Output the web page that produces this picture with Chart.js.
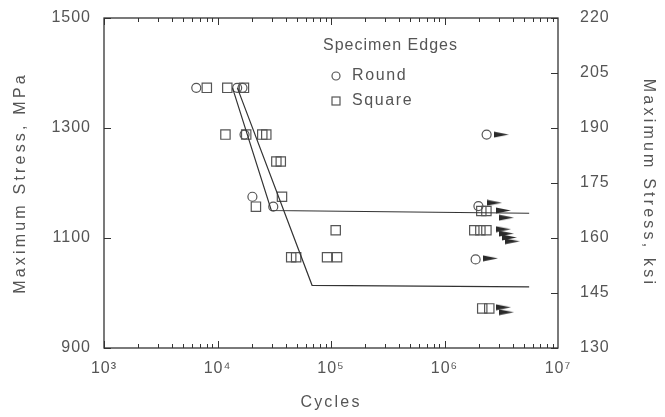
<!DOCTYPE html>
<html><head><meta charset="utf-8">
<script src="https://cdn.jsdelivr.net/npm/chart.js@4.4.0/dist/chart.umd.min.js"></script>
<style>html,body{margin:0;padding:0;background:#fff;}#wrap{width:665px;height:417px;position:relative;}</style>
</head><body><div id="wrap"><canvas id="c" width="665" height="417"></canvas></div>
<script>
// ---- data ----
const xTickValues = [1e3, 1e4, 1e5, 1e6, 1e7];
const xTickLabels = ['10³', '10⁴', '10⁵', '10⁶', '10⁷'];
const yLeftTicks = [900, 1100, 1300, 1500];
const yRightTicks = [130, 145, 160, 175, 190, 205, 220];

const roundCycles = [6500, 14900, 16600, 17300, 20300, 31000, 2350000, 1990000, 1880000];
const roundStress = [1373, 1373, 1373, 1288, 1175, 1157, 1288, 1158, 1061];

const squareCycles = [8050, 12200, 17100, 11750, 17900, 24800, 26900, 33000, 36100, 37000, 21800,
  110000, 44600, 49300, 92300, 113000, 2110000, 2340000, 1830000, 2070000, 2340000, 2150000, 2480000];
const squareStress = [1373, 1373, 1373, 1288, 1288, 1288, 1288, 1239, 1239, 1175, 1157,
  1114, 1065, 1065, 1065, 1065, 1149, 1149, 1114, 1114, 1114, 972, 972];

const runoutCycles = [3160000, 2750000, 3300000, 3500000, 3300000, 3500000, 3720000, 3950000, 2540000, 3300000, 3500000];
const runoutStress = [1288, 1164, 1150, 1137, 1116, 1108, 1101, 1094, 1063, 974, 965];

const fitACycles = [13560, 29800, 5570000];
const fitAStress = [1373, 1150, 1145];
const fitBCycles = [14960, 68100, 5570000];
const fitBStress = [1373, 1014, 1011];

const legendTitle = 'Specimen Edges';
const legendLabels = ['Round', 'Square'];
const xTitle = 'Cycles';
const yLeftTitle = 'Maximum Stress, MPa';
const yRightTitle = 'Maximum Stress, ksi';

// ---- styling ----
const INK = '#333';
const TXT = '#555';
const FONT = {family: "'Liberation Sans', Arial, sans-serif", size: 16};
const TITLE_SPACING = {x: '2.2px', y: '3.2px', y2: '3.2px'};

function pts(xs, ys) { return xs.map((x, i) => ({x: x, y: ys[i]})); }

const arrowImg = (() => {
  const c = document.createElement('canvas');
  c.width = 15; c.height = 7;
  const g = c.getContext('2d');
  g.fillStyle = '#2a2a2a';
  g.beginPath(); g.moveTo(0, 0.5); g.lineTo(15, 3.5); g.lineTo(0, 6.5); g.closePath(); g.fill();
  return c;
})();

const frame = {
  id: 'frame',
  beforeUpdate(chart) { chart.ctx.letterSpacing = '1px'; },
  beforeDraw(chart) {
    chart.ctx.letterSpacing = '1px';
    Object.keys(chart.scales).forEach(id => {
      const s = chart.scales[id];
      if (!s._spacedTitle) {
        const orig = s.drawTitle.bind(s);
        s.drawTitle = function () {
          const prev = this.ctx.letterSpacing;
          this.ctx.letterSpacing = TITLE_SPACING[id] || '1px';
          orig();
          this.ctx.letterSpacing = prev;
        };
        s._spacedTitle = true;
      }
    });
  },
  afterDraw(chart) {
    const {ctx, chartArea: a, scales} = chart;
    ctx.save();
    ctx.strokeStyle = INK;
    ctx.lineWidth = 1.3;
    ctx.strokeRect(a.left, a.top, a.right - a.left, a.bottom - a.top);
    ctx.lineWidth = 1;
    ctx.beginPath();
    const xs = scales.x;
    for (let d = 3; d < 7; d++) {
      for (let k = 1; k < 10; k++) {
        const v = k * Math.pow(10, d);
        const px = Math.round(xs.getPixelForValue(v)) + 0.5;
        const len = k === 1 ? 7 : 4;
        ctx.moveTo(px, a.bottom); ctx.lineTo(px, a.bottom - len);
        ctx.moveTo(px, a.top); ctx.lineTo(px, a.top + len);
      }
    }
    scales.y.ticks.forEach(t => {
      const py = Math.round(scales.y.getPixelForValue(t.value)) + 0.5;
      ctx.moveTo(a.left, py); ctx.lineTo(a.left + 7, py);
    });
    scales.y2.ticks.forEach(t => {
      const py = Math.round(scales.y2.getPixelForValue(t.value)) + 0.5;
      ctx.moveTo(a.right, py); ctx.lineTo(a.right - 7, py);
    });
    ctx.stroke();

    // legend
    ctx.fillStyle = TXT;
    ctx.font = FONT.size + 'px ' + FONT.family;
    ctx.textBaseline = 'middle';
    ctx.textAlign = 'left';
    ctx.letterSpacing = '1px';
    ctx.fillText(legendTitle, 323, 46);
    ctx.letterSpacing = '1.6px';
    ctx.fillText(legendLabels[0], 352, 76);
    ctx.fillText(legendLabels[1], 352, 101);
    ctx.strokeStyle = '#555';
    ctx.lineWidth = 1.2;
    ctx.beginPath(); ctx.arc(336, 76, 4, 0, Math.PI * 2); ctx.stroke();
    ctx.strokeRect(332, 97, 8, 8);
    ctx.restore();
  }
};

function fixV(w) { return s => { s.width = w; s.paddingTop = 0; s.paddingBottom = 0; }; }

new Chart(document.getElementById('c'), {
  type: 'scatter',
  data: {
    datasets: [
      {label: 'fitA', data: pts(fitACycles, fitAStress), showLine: true, borderColor: INK, borderWidth: 1.2,
        pointRadius: 0, fill: false, tension: 0, yAxisID: 'y'},
      {label: 'fitB', data: pts(fitBCycles, fitBStress), showLine: true, borderColor: INK, borderWidth: 1.2,
        pointRadius: 0, fill: false, tension: 0, yAxisID: 'y'},
      {label: legendLabels[0], data: pts(roundCycles, roundStress), pointStyle: 'circle', pointRadius: 4.5,
        borderColor: '#555', borderWidth: 1.2, backgroundColor: 'rgba(0,0,0,0)', yAxisID: 'y'},
      {label: legendLabels[1], data: pts(squareCycles, squareStress), pointStyle: 'rect', pointRadius: 6.6,
        borderColor: '#555', borderWidth: 1.2, backgroundColor: 'rgba(0,0,0,0)', yAxisID: 'y'},
      {label: 'runout', data: pts(runoutCycles, runoutStress), pointStyle: arrowImg, pointRadius: 6, yAxisID: 'y'}
    ]
  },
  options: {
    responsive: false,
    animation: false,
    devicePixelRatio: 1,
    layout: {padding: {top: 18, left: 0, right: 0, bottom: 0}},
    plugins: {legend: {display: false}, tooltip: {enabled: false}},
    scales: {
      x: {
        type: 'logarithmic', position: 'bottom', min: 1e3, max: 1e7,
        grid: {display: false, drawTicks: false}, border: {display: false},
        afterBuildTicks: s => { s.ticks = xTickValues.map(v => ({value: v})); },
        afterFit: s => { s.height = 69; s.paddingLeft = 0; s.paddingRight = 0; },
        ticks: {color: TXT, font: FONT, padding: 11, maxRotation: 0, autoSkip: false,
          callback: (v) => { const i = xTickValues.indexOf(v); return i >= 0 ? xTickLabels[i] : ''; }},
        title: {display: true, text: xTitle, color: TXT, font: FONT, padding: {top: 0, bottom: 5}}
      },
      y: {
        type: 'linear', position: 'left', min: 900, max: 1500,
        grid: {display: false, drawTicks: false}, border: {display: false},
        afterBuildTicks: s => { s.ticks = yLeftTicks.map(v => ({value: v})); },
        afterFit: fixV(104),
        ticks: {color: TXT, font: FONT, padding: 13, autoSkip: false, callback: v => String(v)},
        title: {display: true, text: yLeftTitle, color: TXT, font: FONT, padding: {top: 11, bottom: 0}}
      },
      y2: {
        type: 'linear', position: 'right', min: 130, max: 220,
        grid: {display: false, drawTicks: false}, border: {display: false},
        afterBuildTicks: s => { s.ticks = yRightTicks.map(v => ({value: v})); },
        afterFit: fixV(107),
        ticks: {color: TXT, font: FONT, padding: 22, autoSkip: false, callback: v => String(v)},
        title: {display: true, text: yRightTitle, color: TXT, font: FONT, padding: {top: 7, bottom: 0}}
      }
    }
  },
  plugins: [frame]
});
</script></body></html>
